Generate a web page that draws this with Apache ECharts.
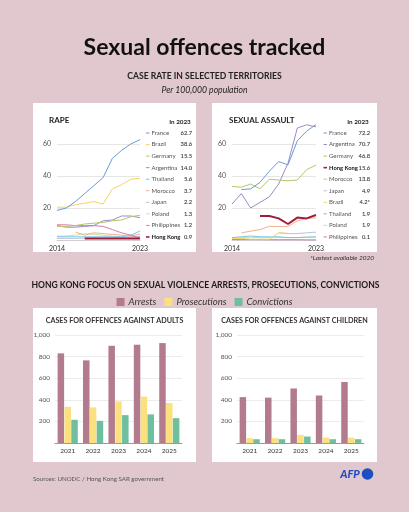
<!DOCTYPE html>
<html><head><meta charset="utf-8">
<script src="https://cdn.jsdelivr.net/npm/echarts@6/dist/echarts.min.js"></script>
<style>html,body{margin:0;padding:0;background:#e1c8cf}#c{width:409px;height:512px}</style>
</head><body><div id="c"></div>
<script>
// ---------- DATA ----------
const years = ['2014','2015','2016','2017','2018','2019','2020','2021','2022','2023'];

// Rape, per 100,000 population
const rapeFrance      = [18.5, 20, 24, 29, 34, 39, 51, 56, 60, 62.7];
const rapeBrazil      = [20.5, 20.5, 22, 23, 24, 22.5, 32, 34.5, 38, 38.6];
const rapeGermany     = [8.5, 8.5, 9, 10, 10.5, 11, 12, 12.5, 14.5, 15.5];
const rapeArgentina   = [9, 8, 8, 8.5, 9, 12, 12.5, 15, 15, 14.0];
const rapeThailand    = [2, 2, 2, 2, 2, 2, 2, 2, 3, 5.6];
const rapeMorocco     = [null, null, 5, 3, 4.5, 4, 3.5, 3, 2.5, 3.7];
const rapeJapan       = [1, 1, 1, 1.2, 1.3, 1.3, 1.4, 1.6, 2, 2.2];
const rapePoland      = [2.5, 2.5, 3, 4, 3.5, 3, 2.5, 2, 1.5, 1.3];
const rapePhilippines = [9.5, 9.5, 9, 9, 9, 8.5, 6.5, 4.5, 3, 1.2];
const rapeHongKong    = [null, null, null, 1, 1, 1, 1, 1, 1, 0.9];

// Sexual assault, per 100,000 population
const saFrance      = [null, 31.5, 32, 36, 43, 49, 47, 62, 68, 72.2];
const saArgentina   = [22.5, 29, 20, 23.5, 27, 35, 48, 70, 72, 70.7];
const saGermany     = [33.5, 33, 35, 32, 38, 37.5, 37, 37.5, 44, 46.8];
const saHongKong    = [null, null, null, 15, 15, 13.5, 10, 14, 13.5, 15.6];
const saMorocco     = [null, 4.5, 5.5, 6.5, 8.5, 8.5, 8.5, 12, 13.5, 13.8];
const saJapan       = [null, null, null, null, null, 4.5, 4, 4, 4.5, 4.9];
const saBrazil      = [1, 1, 0.5, 0.5, 0.5, 4.5, 4.2, null, null, null];
const saThailand    = [1.5, 2, 2.5, 2, 2, 2, 1.5, 1.5, 1.8, 1.9];
const saPoland      = [1, 1.5, 1.5, 1.5, 1.5, 1.5, 1.5, 1.5, 1.8, 1.9];
const saPhilippines = [0.3, 0.3, 0.3, 0.3, 0.2, 0.2, 0.2, 0.2, 0.1, 0.1];

// Legend order and labels
const rapeOrder = ['France','Brazil','Germany','Argentina','Thailand','Morocco','Japan','Poland','Philippines','Hong Kong'];
const rapeLatest = ['62.7','38.6','15.5','14.0','5.6','3.7','2.2','1.3','1.2','0.9'];
const saOrder = ['France','Argentina','Germany','Hong Kong','Morocco','Japan','Brazil','Thailand','Poland','Philippines'];
const saLatest = ['72.2','70.7','46.8','15.6','13.8','4.9','4.2*','1.9','1.9','0.1'];

// Hong Kong cases
const hkYears = ['2021','2022','2023','2024','2025'];
const adultArrests      = [830, 765, 900, 910, 925];
const adultProsecutions = [335, 330, 385, 430, 370];
const adultConvictions  = [215, 205, 258, 265, 230];
const childArrests      = [425, 420, 505, 440, 565];
const childProsecutions = [45, 45, 75, 50, 50];
const childConvictions  = [35, 35, 60, 35, 35];
const yTicks = [0, 200, 400, 600, 800, 1000];

// ---------- STYLE ----------
const F = 'Lato, "Noto Sans", sans-serif';
const colors = {
  'France':'#6b9bd6','Brazil':'#f5d464','Germany':'#b5c66a','Argentina':'#9a8cc2',
  'Thailand':'#72c6e4','Morocco':'#f3b08b','Japan':'#bcc2da','Poland':'#cfe2a6',
  'Philippines':'#d97aab','Hong Kong':'#a11d3e'
};
const rapeData = {'France':rapeFrance,'Brazil':rapeBrazil,'Germany':rapeGermany,'Argentina':rapeArgentina,
  'Thailand':rapeThailand,'Morocco':rapeMorocco,'Japan':rapeJapan,'Poland':rapePoland,
  'Philippines':rapePhilippines,'Hong Kong':rapeHongKong};
const saData = {'France':saFrance,'Argentina':saArgentina,'Germany':saGermany,'Hong Kong':saHongKong,
  'Morocco':saMorocco,'Japan':saJapan,'Brazil':saBrazil,'Thailand':saThailand,'Poland':saPoland,
  'Philippines':saPhilippines};
const barColors = ['#b27b8e', '#fbe07e', '#6dbf9e'];

const drawOrder = ['Poland','Japan','Thailand','Morocco','Philippines','Argentina','Germany','Brazil','France','Hong Kong'];

function lineSeries(dataMap, gi) {
  return drawOrder.map(n => ({
    type:'line', name:n, xAxisIndex:gi, yAxisIndex:gi, data:dataMap[n],
    symbol:'none', clip:false, silent:true, connectNulls:false,
    lineStyle:{color:colors[n], width: n==='Hong Kong'?2:1},
    itemStyle:{color:colors[n]}, z: n==='Hong Kong'?5:3
  }));
}

const grids = [
  {left:57, right:409-140, top:144, bottom:512-240},
  {left:232, right:409-316, top:144, bottom:512-240},
  {left:55, right:409-182, top:335, bottom:512-443},
  {left:237, right:409-364, top:335, bottom:512-443}
];

const lineX = gi => ({
  type:'category', gridIndex:gi, data:years, boundaryGap:false,
  axisLine:{show:true, lineStyle:{color:'#cfcfcf', width:1}}, axisTick:{show:false},
  axisLabel:{interval:0, formatter:(v,i)=> (i===0||i===years.length-1)?v:'', fontFamily:F, fontSize:7, color:'#333', margin:5}
});
const lineY = gi => ({
  type:'value', gridIndex:gi, min:0, max:60, interval:20,
  axisLine:{show:false}, axisTick:{show:false},
  splitLine:{lineStyle:{color:'#e6e6e6', width:1}},
  axisLabel:{formatter:v=> v===0?'':String(v), fontFamily:F, fontSize:7, color:'#555', margin:6}
});
const barX = gi => ({
  type:'category', gridIndex:gi, data:hkYears,
  axisLine:{show:true, lineStyle:{color:'#9a9a9a', width:1}}, axisTick:{show:false},
  axisLabel:{fontFamily:F, fontSize:6.5, color:'#333', margin:4}
});
const barY = gi => ({
  type:'value', gridIndex:gi, min:yTicks[0], max:yTicks[yTicks.length-1], interval:yTicks[1]-yTicks[0],
  axisLine:{show:false}, axisTick:{show:false},
  splitLine:{lineStyle:{color:'#ececec', width:1}},
  axisLabel:{formatter:v=> v===0?'':v.toLocaleString('en-US'), fontFamily:F, fontSize:6.5, color:'#555', margin:5}
});

function barSeries(gi, arr) {
  const names = ['Arrests','Prosecutions','Convictions'];
  return arr.map((d,k)=>({
    type:'bar', name:names[k], xAxisIndex:gi, yAxisIndex:gi, data:d,
    barWidth:6.5, barGap:'5%', itemStyle:{color:barColors[k]}, silent:true
  }));
}

// graphics
const g = [];
function rect(x,y,w,h){ g.push({type:'rect', shape:{x,y,width:w,height:h}, style:{fill:'#ffffff'}, z:-10}); }
function txt(text,x,y,font,fill,align){ g.push({type:'text', x, y, z:20,
  style:{text, font, fill, textAlign:align||'left', textVerticalAlign:'middle', align:align||'left', verticalAlign:'middle'}}); }

rect(33,103,163,149); rect(212,103,165,149);
rect(33,308,163,154); rect(212,308,165,154);

txt('Sexual offences tracked', 204.5, 48, 'bold 23px '+F, '#111', 'center');
txt('CASE RATE IN SELECTED TERRITORIES', 204.5, 76, 'bold 8.6px '+F, '#222', 'center');
txt('Per 100,000 population', 204.5, 90, 'italic 8.6px '+F, '#222', 'center');

txt('RAPE', 49, 120, 'bold 8px '+F, '#222', 'left');
txt('SEXUAL ASSAULT', 229, 120, 'bold 8px '+F, '#222', 'left');
txt('In 2023', 180, 122, 'bold 6.3px '+F, '#222', 'center');
txt('In 2023', 358, 122, 'bold 6.3px '+F, '#222', 'center');

function legendBlock(order, latest, dashX, nameX, valX){
  order.forEach((n,i)=>{
    const y = 133 + i*11.55;
    const hk = n==='Hong Kong';
    g.push({type:'line', shape:{x1:dashX, y1:y, x2:dashX+3.5, y2:y}, style:{stroke:colors[n], lineWidth:hk?1.6:1}, z:20});
    txt(n, nameX, y, (hk?'bold 5.8px ':'6px ')+F, hk?'#111':'#555', 'left');
    txt(latest[i], valX, y, '600 5.8px '+F, '#333', 'right');
  });
}
legendBlock(rapeOrder, rapeLatest, 146, 151.5, 192);
legendBlock(saOrder, saLatest, 323.5, 329, 370);

txt('*Lastest available 2020', 374, 258, 'italic 6.5px '+F, '#333', 'right');

txt('HONG KONG FOCUS ON SEXUAL VIOLENCE ARRESTS, PROSECUTIONS, CONVICTIONS', 205.5, 285, 'bold 8.55px '+F, '#1a1a1a', 'center');
txt('CASES FOR OFFENCES AGAINST ADULTS', 114.5, 321, 'bold 7.2px '+F, '#333', 'center');
txt('CASES FOR OFFENCES AGAINST CHILDREN', 294.5, 321, 'bold 7.2px '+F, '#333', 'center');

txt('Sources: UNODC / Hong Kong SAR government', 33, 479, '6.2px '+F, '#555', 'left');
txt('AFP', 350, 474, 'italic 900 11px '+F, '#1e4fc0', 'center');
g.push({type:'circle', shape:{cx:367.5, cy:474, r:5.8}, style:{fill:'#1e4fc0'}, z:20});

const chart = echarts.init(document.getElementById('c'), null, {renderer:'canvas'});
chart.setOption({
  backgroundColor:'#e1c8cf',
  animation:false,
  grid: grids,
  xAxis:[lineX(0), lineX(1), barX(2), barX(3)],
  yAxis:[lineY(0), lineY(1), barY(2), barY(3)],
  legend:{
    data:['Arrests','Prosecutions','Convictions'], top:292, left:'center',
    itemWidth:8, itemHeight:8, itemGap:8, icon:'rect', selectedMode:false,
    textStyle:{fontFamily:F, fontStyle:'italic', fontSize:9.5, color:'#333', padding:[0,0,0,-1]}
  },
  graphic: g,
  series:[
    ...lineSeries(rapeData,0),
    ...lineSeries(saData,1),
    ...barSeries(2,[adultArrests,adultProsecutions,adultConvictions]),
    ...barSeries(3,[childArrests,childProsecutions,childConvictions])
  ]
});
</script></body></html>
